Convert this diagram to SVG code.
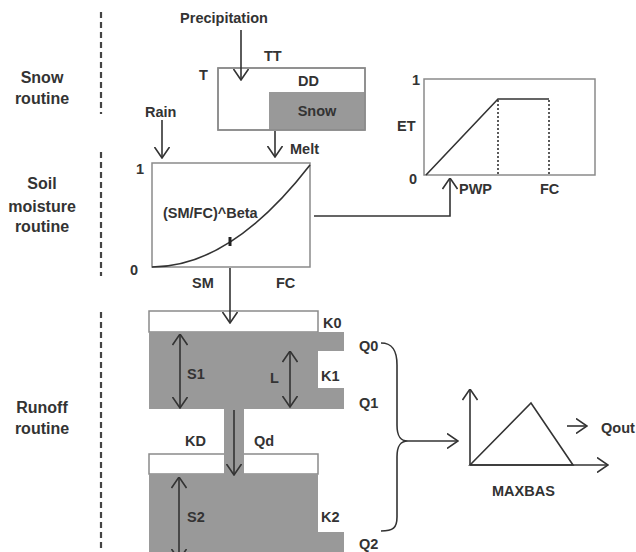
<svg xmlns="http://www.w3.org/2000/svg" width="636" height="552" viewBox="0 0 636 552">
<style>
text{font-family:"Liberation Sans",Arial,sans-serif;font-weight:bold;fill:#333;font-size:14.5px}
.lab{font-size:16px}
.ln{stroke:#333;stroke-width:1.6;fill:none}
.box{stroke:#8a8a8a;stroke-width:1.5;fill:#fff}
.dash{stroke:#444;stroke-width:2.2;stroke-dasharray:6 4;fill:none}
.gray{fill:#999;stroke:none}
.arr{marker-end:url(#ah)}
.dbl{marker-end:url(#ah);marker-start:url(#ah)}
</style>
<defs>
<marker id="ah" viewBox="0 0 12 16" refX="11.5" refY="8" markerWidth="12" markerHeight="16" markerUnits="userSpaceOnUse" orient="auto-start-reverse">
<path d="M0.5,0.5 L11.5,8 L0.5,15.5" fill="none" stroke="#333" stroke-width="1.6"/>
</marker>
</defs>
<rect width="636" height="552" fill="#fff"/>

<g id="section-labels">
<line class="dash" x1="101" y1="12" x2="101" y2="114"/>
<line class="dash" x1="101" y1="152" x2="101" y2="276"/>
<line class="dash" x1="101" y1="312" x2="101" y2="552"/>
<text class="lab" x="42" y="83" text-anchor="middle">Snow</text>
<text class="lab" x="42" y="104" text-anchor="middle">routine</text>
<text class="lab" x="42" y="189" text-anchor="middle">Soil</text>
<text class="lab" x="42" y="212" text-anchor="middle">moisture</text>
<text class="lab" x="42" y="232" text-anchor="middle">routine</text>
<text class="lab" x="42" y="413" text-anchor="middle">Runoff</text>
<text class="lab" x="42" y="434" text-anchor="middle">routine</text>
</g>

<g id="snow">
<rect class="box" x="218" y="68" width="147" height="62"/>
<rect class="gray" x="269" y="92" width="96" height="38"/>
<rect x="218" y="68" width="147" height="62" fill="none" stroke="#8a8a8a" stroke-width="1.5"/>
<text x="224" y="23" text-anchor="middle">Precipitation</text>
<text x="264" y="61">TT</text>
<text x="199" y="80">T</text>
<text x="298" y="86">DD</text>
<text x="317" y="116" text-anchor="middle">Snow</text>
<text x="145" y="117">Rain</text>
<text x="290" y="154">Melt</text>
</g>

<g id="soil">
<rect class="box" x="152" y="163" width="158" height="104"/>
<path class="ln" d="M152,267 Q231,267 310,165"/>
<line x1="230" y1="237" x2="230" y2="246" stroke="#222" stroke-width="3"/>
<text x="163" y="218">(SM/FC)^Beta</text>
<text x="136" y="174">1</text>
<text x="130" y="275">0</text>
<text x="192" y="288">SM</text>
<text x="276" y="288">FC</text>
</g>

<g id="et">
<rect class="box" x="424" y="79" width="171" height="96"/>
<polyline class="ln" points="426,175 498,99 549,99" stroke-width="2"/>
<line x1="498" y1="100" x2="498" y2="175" stroke="#333" stroke-width="1.6" stroke-dasharray="2 2"/>
<line x1="549" y1="100" x2="549" y2="175" stroke="#333" stroke-width="1.6" stroke-dasharray="2 2"/>
<text x="412" y="85">1</text>
<text x="397" y="131">ET</text>
<text x="409" y="184">0</text>
<text x="459" y="194">PWP</text>
<text x="540" y="194">FC</text>
</g>

<g id="upper-tank">
<rect class="box" x="149" y="311" width="169" height="21"/>
<path class="gray" d="M149,332 H344 V351 H318 V388 H344 V409 H149 Z"/>
<rect class="gray" x="224" y="409" width="20" height="66"/>
<text x="323" y="328">K0</text>
<text x="321" y="381">K1</text>
<text x="187" y="379">S1</text>
<text x="270" y="383">L</text>
<text x="185" y="446">KD</text>
<text x="254" y="446">Qd</text>
</g>

<g id="lower-tank">
<rect class="box" x="149" y="454" width="169" height="20"/>
<rect class="gray" x="224" y="453" width="20" height="22"/>
<path class="gray" d="M149,474 H318 V532 H344 V552 H149 Z"/>
<text x="187" y="522">S2</text>
<text x="321" y="522">K2</text>
</g>

<g id="outputs">
<text x="359" y="351">Q0</text>
<text x="359" y="408">Q1</text>
<text x="359" y="549">Q2</text>
</g>

<g id="maxbas">
<polygon points="470,465 531,403 573,465" fill="none" stroke="#333" stroke-width="1.6"/>
<text x="492" y="496">MAXBAS</text>
<text x="601" y="433">Qout</text>
</g>

<g id="connectors">
<line class="ln arr" x1="241" y1="30" x2="241" y2="80"/>
<line class="ln arr" x1="162" y1="120" x2="162" y2="158"/>
<line class="ln arr" x1="275" y1="131" x2="275" y2="157"/>
<polyline class="ln arr" points="314,216 450,216 450,178"/>
<line class="ln arr" x1="230" y1="268" x2="230" y2="323"/>
<line class="ln dbl" x1="180" y1="334" x2="180" y2="408"/>
<line class="ln dbl" x1="290" y1="351" x2="290" y2="407"/>
<line class="ln arr" x1="234" y1="410" x2="234" y2="475"/>
<line class="ln dbl" x1="179" y1="477" x2="179" y2="560"/>
<path class="ln" d="M381,343 C393,343 397,351 397,365 L397,425 C397,436 400,441 408,441 C400,441 397,446 397,457 L397,517 C397,528 393,531 381,531"/>
<line class="ln arr" x1="408" y1="441" x2="458" y2="441"/>
<line class="ln arr" x1="470" y1="465" x2="470" y2="389"/>
<line class="ln arr" x1="470" y1="465" x2="608" y2="465"/>
<line class="ln arr" x1="567" y1="426" x2="587" y2="426"/>
</g>
</svg>
